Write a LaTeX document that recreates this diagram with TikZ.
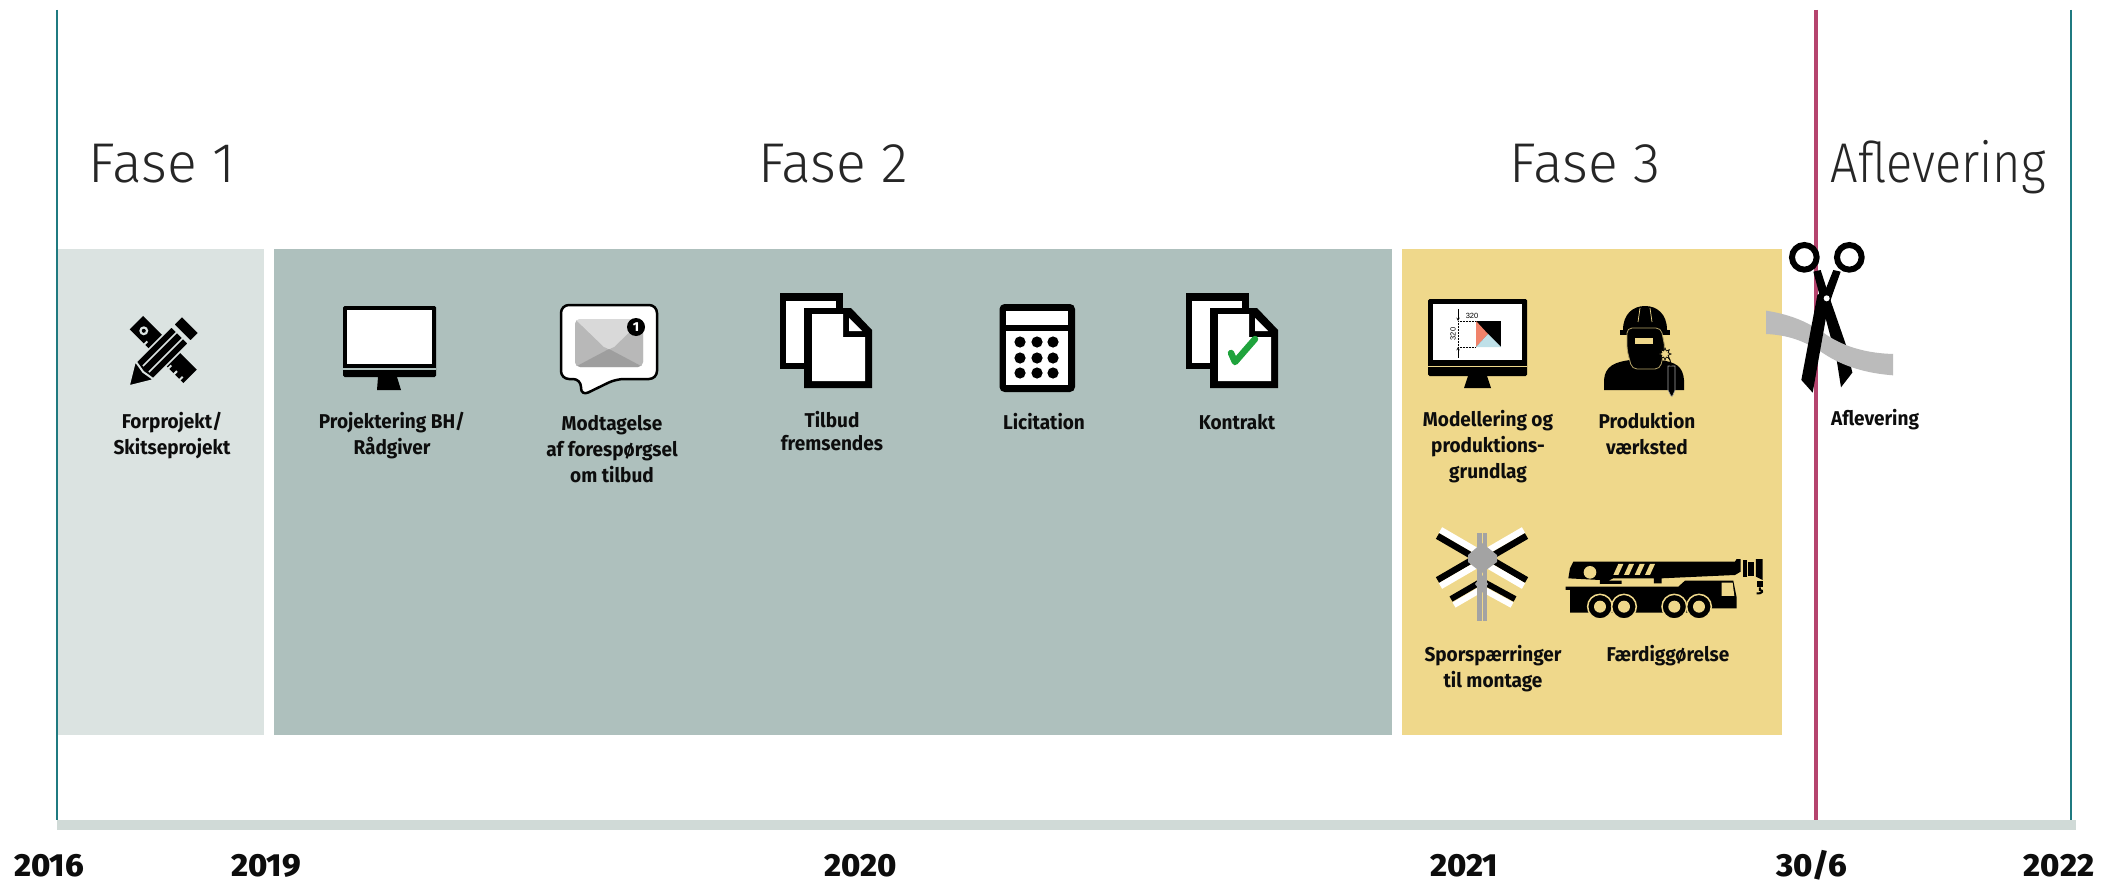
\documentclass[tikz,border=0pt]{standalone}
\usepackage{fontspec}
\usetikzlibrary{shapes.geometric}
\setmainfont{Fira Sans}
\newfontfamily\labfont[FakeStretch=0.95]{Fira Sans Bold}
\newfontfamily\yearfont[FakeStretch=1.02]{Fira Sans ExtraBold}
\newfontfamily\fasefont[FakeStretch=0.99]{Fira Sans Light}
\newfontfamily\aflfont[FakeStretch=0.87]{Fira Sans Light}
\newfontfamily\smallfont{Liberation Sans}
\definecolor{faseA}{HTML}{DBE3E1}
\definecolor{faseB}{HTML}{AEC0BD}
\definecolor{faseC}{HTML}{EFD88B}
\definecolor{barcol}{HTML}{D0DAD7}
\definecolor{tealcol}{HTML}{1F7A80}
\definecolor{redcol}{HTML}{B5446E}
\definecolor{ribbon}{HTML}{BBBBBB}
\definecolor{signgray}{HTML}{A3A3A3}
\definecolor{checkgreen}{HTML}{1FA33C}
\definecolor{orangecol}{HTML}{F0826A}
\definecolor{bluecol}{HTML}{BFE0E8}
\tikzset{
  panel/.style={fill=#1,draw=none},
  lbl/.style={align=center,inner sep=0pt,font=\labfont\fontsize{20}{26}\selectfont,text=black!95},
  lbltight/.style={lbl,font=\labfont\fontsize{20}{23}\selectfont},
  yearlbl/.style={inner sep=0pt,anchor=base,font=\yearfont\fontsize{32}{34}\selectfont,text=black!95},
  faselbl/.style={inner sep=0pt,anchor=base,font=\fasefont\fontsize{56}{60}\selectfont,text=black!85},
  afllbl/.style={faselbl,font=\aflfont\fontsize{56}{60}\selectfont},
  ink/.style={fill=black,draw=none},
  paper/.style={fill=white,draw=none},
}
\begin{document}
\begin{tikzpicture}[x=1pt,y=-1pt]
\useasboundingbox[fill=white] (0,0) rectangle (2101,880);
% panels
\fill[panel=faseA] (58,249) rectangle (264,735);
\fill[panel=faseB] (274,249) rectangle (1392,735);
\fill[panel=faseC] (1402,249) rectangle (1782,735);
% timeline
\draw[tealcol,line width=2.5pt] (57,10) -- (57,820);
\draw[tealcol,line width=2.5pt] (2071,10) -- (2071,820);
\draw[redcol,line width=4.5pt] (1816,10) -- (1816,820);
\fill[barcol] (57,820) rectangle (2076,830);
% phase titles
\node[faselbl] (f1) at (162,182) {Fase 1};
\node[faselbl] (f2) at (833,182) {Fase 2};
\node[faselbl] (f3) at (1585,182) {Fase 3};
\node[afllbl] (f4) at (1938,182) {Aflevering};
% years
\node[yearlbl] (y16) at (49,876) {2016};
\node[yearlbl] (y19) at (266,876) {2019};
\node[yearlbl] (y20) at (861,876) {2020};
\node[yearlbl] (y21) at (1464,876) {2021};
\node[yearlbl] (y30) at (1812,876) {30/6};
\node[yearlbl] (y22) at (2059,876) {2022};
% labels
\node[lbl] (l1) at (172,436) {Forprojekt/\\Skitseprojekt};
\node[lbl] (l2) at (392,436) {Projektering BH/\\Rådgiver};
\node[lbl] (l3) at (612,449) {Modtagelse\\af forespørgsel\\om tilbud};
\node[lbltight] (l4) at (832,431) {Tilbud\\fremsendes};
\node[lbl] (l5) at (1044,422) {Licitation};
\node[lbl] (l6) at (1237,422) {Kontrakt};
\node[lbl] (l7) at (1488,447) {Modellering og\\produktions-\\grundlag};
\node[lbl] (l8) at (1647,434) {Produktion\\værksted};
\node[lbl] (l9) at (1493,669) {Sporspærringer\\til montage};
\node[lbl] (l10) at (1668,656) {Færdiggørelse};
\node[lbl] (l11) at (1875,420) {Aflevering};
% ruler + pencil
\begin{scope}[shift={(136,323)},rotate=-45]
  \fill[black] (0,-10) rectangle (76,9);
  \fill[faseA] (11,0) circle (4.5);
  \fill[black] (11,0) circle (2);
  \foreach \s in {20,30,40,54,62,70} \fill[faseA] (\s,5) rectangle (\s+2,9.5);
\end{scope}
\begin{scope}[shift={(129,386)},rotate=45]
  \fill[black,draw=faseA,line width=1.5pt] (0,0) -- (20,-12) -- (72,-12) -- (72,12) -- (20,12) -- cycle;
  \fill[black,draw=faseA,line width=1.5pt] (75,-12) rectangle (87,12);
  \fill[faseA] (21,-12) -- (19,0) -- (21,12) -- (23,12) -- (21,0) -- (23,-12) -- cycle;
  \fill[faseA] (24,-5) rectangle (72,-3.5);
  \fill[faseA] (24,3.5) rectangle (72,5);
\end{scope}
% monitor plain
\fill[ink,rounded corners=1.5pt] (343,306) rectangle (436,377);
\fill[paper] (347,310) rectangle (432,364);
\fill[faseB] (343,368) rectangle (436,370);
\fill[ink] (378,377) -- (397,377) -- (401,390) -- (377,390) -- cycle;
% speech bubble
\draw[fill=white,draw=black,line width=2.5pt,rounded corners=8pt,line join=round] (561,305) -- (657,305) -- (657,379) -- (616,379) -- (581,396) -- (581,379) -- (561,379) -- cycle;
\fill[gray!32,rounded corners=5pt] (575,319) rectangle (643,367);
\begin{scope}
  \clip[rounded corners=5pt] (575,319) rectangle (643,367);
  \fill[black!28] (575,319) -- (609,350) -- (575,367) -- cycle;
  \fill[black!28] (643,319) -- (609,350) -- (643,367) -- cycle;
  \fill[black!38] (575,367) -- (609,349) -- (643,367) -- cycle;
  \fill[black!15] (575,319) -- (604,347) -- (609,349) -- (614,347) -- (643,319) -- cycle;
\end{scope}
\node[circle,fill=black,draw=none,minimum size=18pt,inner sep=0pt,text=white,font=\yearfont\fontsize{13}{13}\selectfont] (badge) at (636,327) {1};
% documents
\fill[ink] (780,293) rectangle (843,369);
\fill[paper] (786,301) rectangle (836,363);
\fill[ink] (804,308) -- (851,308) -- (872,330) -- (872,388) -- (804,388) -- cycle;
\fill[paper] (812,314) -- (843,314) -- (843,337) -- (865,337) -- (865,381) -- (812,381) -- cycle;
\fill[paper] (849,318) -- (862,331) -- (849,331) -- cycle;
% calculator
\fill[ink,rounded corners=5pt] (999.5,304) rectangle (1075,392);
\fill[paper] (1006,311) rectangle (1068,325);
\fill[paper] (1006,331) rectangle (1068,385);
\foreach \cx in {1020,1037,1053} \foreach \cy in {342,358,373} \fill[black] (\cx,\cy) circle (5.6);
% documents with check
\fill[ink] (1186,293) rectangle (1249,369);
\fill[paper] (1192,301) rectangle (1242,363);
\fill[ink] (1210,308) -- (1257,308) -- (1278,330) -- (1278,388) -- (1210,388) -- cycle;
\fill[paper] (1218,314) -- (1249,314) -- (1249,337) -- (1271,337) -- (1271,381) -- (1218,381) -- cycle;
\fill[paper] (1255,318) -- (1268,331) -- (1255,331) -- cycle;
\draw[checkgreen,line width=6.5pt,line cap=round,line join=round] (1231,353) -- (1235,362) -- (1255,339);
% monitor with drawing
\fill[ink,rounded corners=1.5pt] (1428,299) rectangle (1527,376);
\fill[paper] (1433,304) rectangle (1522,360);
\fill[faseC] (1428,366) rectangle (1527,367);
\fill[ink] (1468,376) -- (1487,376) -- (1491,388) -- (1464,388) -- cycle;
\fill[black] (1476,321) rectangle (1501,347);
\fill[orangecol] (1476,321) -- (1488,334) -- (1476,347) -- cycle;
\fill[bluecol] (1476,347) -- (1488,334) -- (1501,347) -- cycle;
\draw[black,densely dotted,line width=.5pt] (1458,321) -- (1476,321) (1458,347) -- (1476,347) (1458,321) -- (1458,347);
\draw[-stealth,black,line width=.5pt] (1458,309) -- (1458,321);
\draw[-stealth,black,line width=.5pt] (1458,358) -- (1458,347);
\node[inner sep=0pt,font=\smallfont\fontsize{7.5}{8}\selectfont] (d1) at (1472,316) {320};
\node[inner sep=0pt,rotate=90,font=\smallfont\fontsize{7.5}{8}\selectfont] (d2) at (1453,334) {320};
% welder
\fill[black] (1604,390) -- (1604,380) .. controls (1605,366) and (1615,362) .. (1630,360) -- (1660,360) .. controls (1675,362) and (1683,366) .. (1684,380) -- (1684,390) -- cycle;
\fill[black] (1623,330) .. controls (1623,314) and (1633,306) .. (1645,306) .. controls (1657,306) and (1667,314) .. (1667,330) -- cycle;
\fill[black] (1620,330) rectangle (1670,335);
\draw[fill=black,draw=faseC!75!black,line width=.8pt,rounded corners=5pt] (1627,328) -- (1661,328) -- (1665,348) -- (1660,369) -- (1632,369) -- (1627,350) -- cycle;
\fill[faseC] (1635,338) rectangle (1653,344);
\draw[faseC,line width=.7pt] (1640,308) -- (1638,322) (1650,308) -- (1652,322);
\draw[fill=black,draw=gray!70,line width=.6pt] (1668,366) -- (1675,366) -- (1675,390) -- (1672.5,396) -- (1671,396) -- (1668,390) -- cycle;
\draw[black,line width=1pt] (1671,366) -- (1670,360) -- (1664,352);
\node[star,star points=8,star point ratio=1.8,fill=faseC,draw=black,line width=.7pt,minimum size=12pt,inner sep=0pt] (spark) at (1665,354) {};
% crossing sign
\draw[line width=6.5pt,white] (1483.5,555) -- (1440.5,530);
\draw[line width=6.5pt,black] (1480.5,561) -- (1437.5,536);
\draw[line width=6.5pt,white] (1480.5,555) -- (1523.5,530);
\draw[line width=6.5pt,black] (1483.5,561) -- (1526.5,536);
\draw[line width=6.5pt,black] (1480.5,555) -- (1437.5,580);
\draw[line width=6.5pt,white] (1483.5,561) -- (1440.5,586);
\draw[line width=6.5pt,black] (1483.5,555) -- (1526.5,580);
\draw[line width=6.5pt,white] (1480.5,561) -- (1523.5,586);
\draw[line width=6pt,black] (1482,581) -- (1451,599);
\draw[line width=6pt,white] (1485,587) -- (1454,605);
\draw[line width=6pt,black] (1482,581) -- (1515,599);
\draw[line width=6pt,white] (1479,587) -- (1512,605);
\fill[signgray] (1477,533) rectangle (1487,621);
\fill[faseC] (1481.5,533) rectangle (1482.5,621);
\fill[signgray] (1482,543) -- (1497,555) -- (1497,562) -- (1482,573) -- (1468,562) -- (1468,555) -- cycle;
\fill[signgray] (1482,575) -- (1488,584) -- (1482,593) -- (1475,584) -- cycle;
% crane
\begin{scope}[shift={(1400,510)},xscale=.3333,yscale=.3333]
 \fill[black] (505,205) -- (510,175) -- (520,155) -- (1005,155) -- (1010,147) -- (1022,147) -- (1022,185) -- (1005,195) -- (785,205) -- (785,220) -- (762,220) -- (762,205) -- (640,205) -- (625,212) -- (665,212) -- (665,222) -- (600,222) -- (600,210) -- cycle;
 \fill[faseC] (570,187) circle (19);
 \foreach \s in {640,672,704,735}
   \fill[faseC] (\s,195) -- (\s+15,162) -- (\s+30,162) -- (\s+15,195) -- cycle;
 \fill[black] (1030,150) rectangle (1040,200);
 \fill[black] (1045,157) rectangle (1062,197);
 \fill[black] (1068,147) -- (1088,147) -- (1088,210) -- (1068,200) -- cycle;
 \fill[black] (1072,212) rectangle (1088,232);
 \draw[black,line width=2pt] (1080,232) -- (1080,240) .. controls (1090,240) and (1090,252) .. (1070,250);
 \fill[black] (497,230) -- (835,230) -- (855,212) -- (1000,212) -- (1010,262) -- (1010,295) -- (930,295) -- (930,308) -- (510,308) -- (510,240) -- (497,240) -- cycle;
 \fill[faseC] (965,218) -- (998,218) -- (1003,258) -- (965,258) -- cycle;
 \foreach \wx in {600,672,823,897}{
   \fill[black,draw=faseC,line width=1.5pt] (\wx,290) circle (37);
   \fill[faseC] (\wx,290) circle (18);
 }
\end{scope}
% ribbon and scissors: one blade under the ribbon, the other over it
\begin{scope}[shift={(1740,220)},xscale=.3333,yscale=.3333]
 \fill[black] (220,155) -- (242,150) -- (266,225) -- (318,375) -- (337,458) -- (303,502) -- (290,420) -- (245,250) -- cycle;
 \fill[ribbon] (78,272) .. controls (160,285) and (210,310) .. (260,345) .. controls (320,385) and (390,400) .. (459,402) -- (459,466) .. controls (380,460) and (310,440) .. (250,400) .. controls (190,360) and (140,345) .. (78,342) -- cycle;
 \fill[black] (280,150) -- (302,155) -- (277,225) -- (262,270) -- (218,518) -- (184,480) -- (232,225) -- (256,210) -- cycle;
 \draw[black,line width=6pt] (193,112) circle (37);
 \draw[black,line width=6pt] (328,112) circle (37);
 \fill[white] (260,235) circle (9);
\end{scope}
\end{tikzpicture}
\end{document}
